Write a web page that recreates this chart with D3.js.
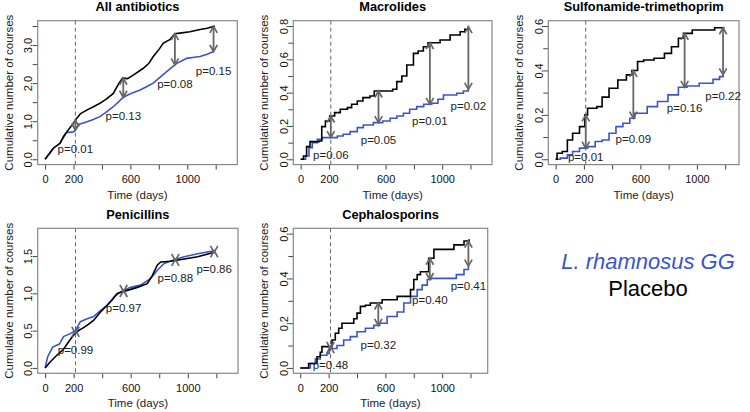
<!DOCTYPE html>
<html>
<head>
<meta charset="utf-8">
<script src="https://cdn.jsdelivr.net/npm/d3@7"></script>
<style>
  body { margin: 0; background: #fff; }
  svg { display: block; }
  text { font-family: "Liberation Sans", Arial, sans-serif; }
</style>
</head>
<body>
<svg id="chart" width="750" height="412"></svg>
<script>
// DATA //

const arrowDays = [213, 550, 913, 1185]
const cutDay = 213
const xTicks = [0, 200, 400, 600, 800, 1000, 1200]
const xTickLabels = [0, 200, 600, 1000]

// all antibiotics: [day, cumulative courses]
const allLgg = [[0,0],[58,0.29],[105,0.42],[150,0.70],[200,0.72],[213,0.77],[240,0.92],[269,0.95],[330,1.03],[386,1.12],[430,1.24],[480,1.38],[520,1.52],[550,1.63],[600,1.72],[668,1.82],[720,1.92],[761,2.0],[810,2.16],[855,2.30],[900,2.44],[926,2.52],[960,2.58],[996,2.65],[1050,2.68],[1090,2.70],[1140,2.76],[1185,2.83]]
const allPlacebo = [[0,0],[58,0.29],[105,0.42],[130,0.60],[152,0.72],[190,0.90],[213,1.03],[250,1.20],[293,1.29],[340,1.38],[386,1.47],[430,1.58],[480,1.73],[505,1.90],[520,2.0],[545,2.13],[580,2.12],[620,2.21],[691,2.39],[730,2.52],[761,2.70],[800,2.88],[832,3.05],[880,3.15],[913,3.30],[960,3.32],[1019,3.35],[1090,3.41],[1140,3.44],[1195,3.50]]
const allP = ['p=0.01', 'p=0.13', 'p=0.08', 'p=0.15']

// macrolides
const macLgg = [[0,0],[35,0.02],[59,0.07],[82,0.10],[118,0.12],[153,0.13],[259,0.14],[300,0.15],[349,0.166],[400,0.19],[443,0.206],[514,0.22],[580,0.23],[632,0.246],[680,0.26],[726,0.276],[770,0.30],[820,0.316],[870,0.33],[926,0.336],[970,0.36],[1009,0.386],[1103,0.396],[1150,0.41],[1185,0.42]]
const macPlacebo = [[0,0],[20,0.02],[42,0.076],[66,0.106],[130,0.11],[149,0.196],[175,0.23],[205,0.26],[240,0.28],[280,0.30],[330,0.31],[360,0.33],[400,0.35],[440,0.37],[490,0.38],[520,0.41],[650,0.42],[679,0.466],[715,0.50],[750,0.566],[797,0.636],[830,0.65],[867,0.676],[900,0.70],[985,0.716],[1056,0.746],[1127,0.766],[1160,0.78],[1185,0.796]]
const macP = ['p=0.06', 'p=0.05', 'p=0.01', 'p=0.02']

// sulfonamide-trimethoprim
const sulLgg = [[0,0],[34,0.005],[83,0.02],[120,0.035],[169,0.05],[226,0.057],[280,0.08],[329,0.087],[378,0.117],[427,0.147],[476,0.162],[525,0.185],[560,0.207],[648,0.237],[721,0.26],[795,0.29],[869,0.324],[930,0.33],[1016,0.342],[1114,0.36],[1160,0.372],[1185,0.38]]
const sulPlacebo = [[0,0],[10,0.027],[47,0.035],[83,0.087],[120,0.117],[169,0.147],[206,0.20],[226,0.23],[292,0.237],[329,0.28],[378,0.32],[440,0.357],[501,0.38],[540,0.40],[580,0.44],[623,0.447],[697,0.455],[770,0.477],[820,0.507],[869,0.545],[905,0.567],[967,0.582],[1126,0.592],[1195,0.592]]
const sulP = ['p=0.01', 'p=0.09', 'p=0.16', 'p=0.22']

// penicillins
const penLgg = [[0,0],[18,0.15],[53,0.28],[100,0.32],[129,0.42],[176,0.46],[212,0.50],[247,0.62],[294,0.66],[341,0.69],[388,0.77],[435,0.84],[482,0.95],[529,1.02],[599,1.08],[669,1.11],[740,1.20],[787,1.31],[834,1.40],[904,1.45],[975,1.49],[1069,1.53],[1185,1.57]]
const penPlacebo = [[0,0],[35,0.08],[82,0.17],[129,0.25],[165,0.35],[200,0.44],[235,0.50],[294,0.57],[341,0.64],[388,0.75],[435,0.84],[470,0.91],[505,1.0],[576,1.04],[646,1.08],[716,1.13],[752,1.24],[787,1.38],[811,1.42],[881,1.43],[975,1.46],[1069,1.49],[1185,1.55]]
const penP = ['p=0.99', 'p=0.97', 'p=0.88', 'p=0.86']

// cephalosporins
const cepLgg = [[0,0],[71,0.02],[106,0.04],[141,0.057],[188,0.065],[205,0.087],[259,0.10],[306,0.125],[353,0.14],[400,0.162],[459,0.177],[518,0.19],[560,0.20],[612,0.23],[683,0.25],[730,0.29],[777,0.32],[824,0.35],[859,0.37],[895,0.395],[920,0.40],[1100,0.417],[1154,0.44],[1185,0.455]]
const cepPlacebo = [[0,0],[59,0.02],[118,0.05],[141,0.07],[153,0.095],[224,0.125],[247,0.155],[271,0.177],[294,0.20],[377,0.22],[400,0.245],[424,0.275],[459,0.28],[494,0.29],[577,0.305],[683,0.32],[777,0.35],[800,0.395],[824,0.417],[847,0.43],[905,0.49],[942,0.53],[1083,0.55],[1154,0.567],[1190,0.575]]
const cepP = ['p=0.48', 'p=0.32', 'p=0.40', 'p=0.41']

const panels = [
  { title: 'All antibiotics', lgg: allLgg, placebo: allPlacebo, p: allP, step: false, pOff: 19,
    box: [37.7, 237.3, 20.7, 164.6], xlim: [-52, 1352], ylim: [0, 3.5], yStep: 0.5, yLabels: [0, 1, 2, 3] },
  { title: 'Macrolides', lgg: macLgg, placebo: macPlacebo, p: macP, step: true, pOff: 17,
    box: [293.3, 492, 20.7, 164.6], xlim: [-52, 1352], ylim: [0, 0.8], yStep: 0.1, yLabels: [0, 0.2, 0.4, 0.6, 0.8] },
  { title: 'Sulfonamide-trimethoprim', lgg: sulLgg, placebo: sulPlacebo, p: sulP, step: true, pOff: 21,
    box: [548.3, 739, 20.7, 164.6], xlim: [-52, 1298], ylim: [0, 0.6], yStep: 0.1, yLabels: [0, 0.2, 0.4, 0.6] },
  { title: 'Penicillins', lgg: penLgg, placebo: penPlacebo, p: penP, step: false, pOff: 17,
    box: [37.7, 238, 228.3, 373.3], xlim: [-52, 1352], ylim: [0, 1.8], yStep: 0.5, yLabels: [0, 0.5, 1, 1.5] },
  { title: 'Cephalosporins', lgg: cepLgg, placebo: cepPlacebo, p: cepP, step: true, pOff: 20,
    box: [293.3, 487.7, 228.3, 373.3], xlim: [-49, 1321], ylim: [0, 0.6], yStep: 0.1, yLabels: [0, 0.2, 0.4, 0.6] }
]

const BLUE = '#3a55c8'
const GREY = '#666'
const FS = 11.5

// DRAW //

const svg = d3.select('#chart')

// value of a curve at a given day
function valueAt(curve, day, step) {
  let prev = curve[0]
  for (let i = 1; i < curve.length; i++) {
    const c = curve[i]
    if (c[0] > day) {
      if (step) return prev[1]
      return prev[1] + (c[1] - prev[1]) * (day - prev[0]) / (c[0] - prev[0])
    }
    prev = c
  }
  return prev[1]
}

// double headed arrow, open heads like R arrows(code=3)
function drawArrow(g, xp, yTop, yBot) {
  const L = 6.5, hw = 3.7
  g.append('line')
    .attr('x1', xp).attr('x2', xp).attr('y1', yTop).attr('y2', yBot)
    .attr('stroke', GREY).attr('stroke-width', 1.8)
  g.append('path')
    .attr('d', `M${xp - hw},${yTop + L}L${xp},${yTop}L${xp + hw},${yTop + L}`)
    .attr('fill', 'none').attr('stroke', GREY).attr('stroke-width', 1.7)
  g.append('path')
    .attr('d', `M${xp - hw},${yBot - L}L${xp},${yBot}L${xp + hw},${yBot - L}`)
    .attr('fill', 'none').attr('stroke', GREY).attr('stroke-width', 1.7)
}

panels.forEach(function(p) {
  const [x0, x1, y0, y1] = p.box
  const yr = p.ylim[1] - p.ylim[0]
  const x = d3.scaleLinear().domain(p.xlim).range([x0, x1])
  const y = d3.scaleLinear().domain([p.ylim[0] - 0.04 * yr, p.ylim[1] + 0.04 * yr]).range([y1, y0])
  const g = svg.append('g')

  // title
  g.append('text')
    .attr('x', (x0 + x1) / 2).attr('y', y0 - 9.5)
    .attr('text-anchor', 'middle')
    .attr('font-size', 12.8).attr('font-weight', 'bold')
    .text(p.title)

  // x axis
  const xa = g.append('g').attr('transform', `translate(0,${y1})`)
    .call(d3.axisBottom(x).tickValues(xTicks).tickSize(5).tickFormat(d => xTickLabels.includes(d) ? d : ''))
  xa.select('.domain').remove()
  xa.selectAll('line').attr('stroke', '#444')
  xa.selectAll('text').attr('font-size', 11).attr('fill', '#111').attr('dy', '0.95em')

  // y axis
  const yTicks = d3.range(p.ylim[0], p.ylim[1] + 1e-9, p.yStep)
  const ya = g.append('g').attr('transform', `translate(${x0},0)`)
    .call(d3.axisLeft(y).tickValues(yTicks).tickSize(5)
      .tickFormat(d => p.yLabels.some(v => Math.abs(v - d) < 1e-9) ? d3.format('.1f')(d) : ''))
  ya.select('.domain').remove()
  ya.selectAll('line').attr('stroke', '#444')
  ya.selectAll('text')
    .attr('font-size', 11).attr('fill', '#111')
    .attr('text-anchor', 'middle')
    .attr('transform', 'rotate(-90)')
    .attr('x', 0).attr('dy', 0)
    .attr('y', -5.5)

  // axis titles
  g.append('text')
    .attr('x', (x0 + x1) / 2).attr('y', y1 + 34)
    .attr('text-anchor', 'middle').attr('font-size', FS).attr('fill', '#222')
    .text('Time (days)')
  g.append('text')
    .attr('transform', `translate(${x0 - 25},${(y0 + y1) / 2}) rotate(-90)`)
    .attr('text-anchor', 'middle').attr('font-size', FS).attr('fill', '#222')
    .text('Cumulative number of courses')

  // box
  g.append('rect')
    .attr('x', x0).attr('y', y0).attr('width', x1 - x0).attr('height', y1 - y0)
    .attr('fill', 'none').attr('stroke', '#888').attr('stroke-width', 1.2)

  // dashed cut-off line
  g.append('line')
    .attr('x1', x(cutDay)).attr('x2', x(cutDay))
    .attr('y1', y0).attr('y2', y1)
    .attr('stroke', '#666').attr('stroke-dasharray', '4,3')

  const line = d3.line()
    .x(d => x(d[0])).y(d => y(d[1]))
    .curve(p.step ? d3.curveStepAfter : d3.curveLinear)

  g.append('path').datum(p.lgg)
    .attr('d', line).attr('fill', 'none')
    .attr('stroke', BLUE).attr('stroke-width', 1.6)
  g.append('path').datum(p.placebo)
    .attr('d', line).attr('fill', 'none')
    .attr('stroke', '#000').attr('stroke-width', 1.6)

  // arrows and p values
  arrowDays.forEach(function(day, i) {
    const a = valueAt(p.placebo, day, p.step)
    const b = valueAt(p.lgg, day, p.step)
    const hi = Math.max(a, b), lo = Math.min(a, b)
    drawArrow(g, x(day), y(hi), y(lo))
    g.append('text')
      .attr('x', x(day)).attr('y', Math.min(y(lo) + p.pOff, y1 - 8))
      .attr('dy', '0.35em')
      .attr('text-anchor', 'middle').attr('font-size', FS).attr('fill', '#222')
      .text(p.p[i])
  })
})

// legend
svg.append('text')
  .attr('x', 648).attr('y', 269)
  .attr('text-anchor', 'middle').attr('font-size', 22)
  .attr('font-style', 'italic').attr('fill', BLUE)
  .text('L. rhamnosus GG')
svg.append('text')
  .attr('x', 648).attr('y', 296)
  .attr('text-anchor', 'middle').attr('font-size', 22).attr('fill', '#000')
  .text('Placebo')
</script>
</body>
</html>
